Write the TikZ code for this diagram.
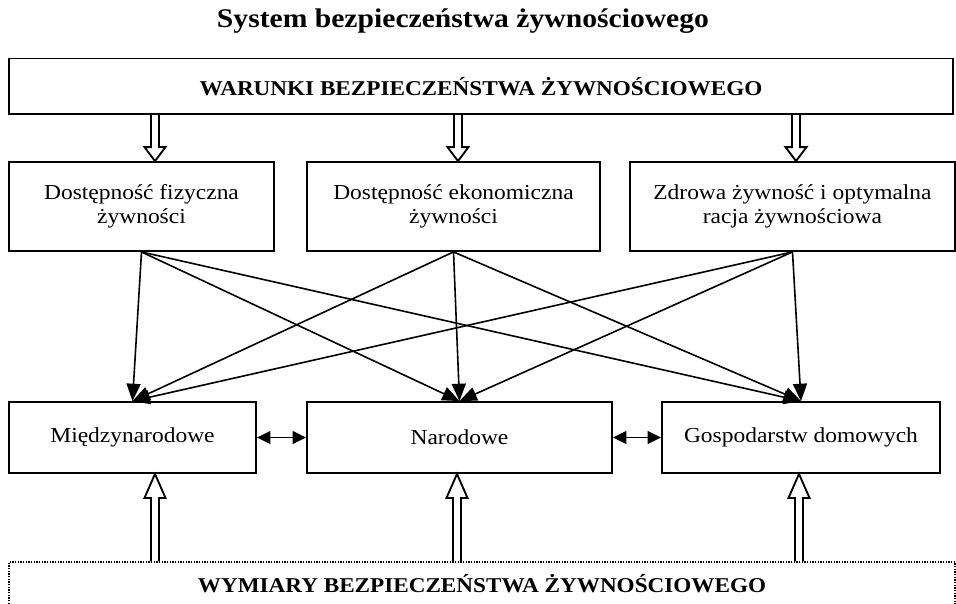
\documentclass[tikz,border=0pt]{standalone}
\usepackage{fontspec}
\setmainfont{Liberation Serif}[FakeStretch=1.1]
\usetikzlibrary{arrows.meta,calc}

\tikzset{every picture/.style={line width=0.75pt}}
\tikzset{
  box/.style={draw, line width=1.4pt, inner sep=0pt, align=center,
    font=\fontsize{16}{17.6}\selectfont},
  headbox/.style={box, font=\bfseries\fontsize{15.8}{18}\selectfont},
  link/.style={line width=1.2pt, -{Triangle[length=13pt,width=10.5pt]}},
  twoway/.style={line width=1.3pt, {Triangle[length=10pt,width=9.5pt]}-{Triangle[length=10pt,width=9.5pt]}},
}
% hollow arrow: from, to (tip), head length
\newcommand{\fatarrow}[3]{%
  \draw[line width=1.4pt] ($(#1)+(-4,0)$) -- ($(#2)+(-4,#3)$) -- ($(#2)+(-10.5,#3)$) -- (#2)
    -- ($(#2)+(10.5,#3)$) -- ($(#2)+(4,#3)$) -- ($(#1)+(4,0)$);}

\begin{document}
\begin{tikzpicture}[x=0.75pt,y=0.75pt,yscale=-1,xscale=1]
\useasboundingbox (0,0) rectangle (956,603);

% Text Node
\node (title) at (463,27) [anchor=base, font=\bfseries\fontsize{20.2}{24}\selectfont] {System bezpieczeństwa żywnościowego};

%Shape: Rectangle
\node (war) at (481,86.25) [headbox, minimum width=708pt, minimum height=41.6pt] {WARUNKI BEZPIECZEŃSTWA ŻYWNOŚCIOWEGO};

%Shape: Rectangle
\node (fiz) at (141.5,206.5) [box, minimum width=198.75pt, minimum height=66.75pt] {Dostępność fizyczna\\żywności};
%Shape: Rectangle
\node (eko) at (453.5,206.5) [box, minimum width=219.75pt, minimum height=66.75pt] {Dostępność ekonomiczna\\żywności};
%Shape: Rectangle
\node (zdr) at (792.5,206.5) [box, minimum width=243.75pt, minimum height=66.75pt] {Zdrowa żywność i optymalna\\racja żywnościowa};

%Shape: Rectangle
\node (mie) at (132.5,437.5) [box, minimum width=185.25pt, minimum height=53.25pt] {Międzynarodowe};
%Shape: Rectangle
\node (nar) at (459.5,437.5) [box, minimum width=228.75pt, minimum height=53.25pt] {Narodowe};
%Shape: Rectangle
\node (gos) at (801,437.5) [box, minimum width=208.5pt, minimum height=53.25pt] {Gospodarstw domowych};

%Shape: Rectangle (dotted)
\node (wym) at (482,585) [headbox, line width=1pt, densely dotted, minimum width=709.5pt, minimum height=34.5pt,
  text height=10.5pt, text depth=0pt] {WYMIARY BEZPIECZEŃSTWA ŻYWNOŚCIOWEGO};

% arrow columns
\coordinate (c1) at (155,0);
\coordinate (c2) at (458,0);
\coordinate (c3) at (796,0);
\coordinate (d1) at (155,0);
\coordinate (d2) at (457,0);
\coordinate (d3) at (799,0);

%Block Arrows
\fatarrow{war.south -| c1}{fiz.north -| c1}{-14}
\fatarrow{war.south -| c2}{eko.north -| c2}{-14}
\fatarrow{war.south -| c3}{zdr.north -| c3}{-14}
\fatarrow{wym.north -| d1}{mie.south -| d1}{24}
\fatarrow{wym.north -| d2}{nar.south -| d2}{24}
\fatarrow{wym.north -| d3}{gos.south -| d3}{24}

%Straight Lines
\foreach \s in {fiz,eko,zdr}
  \foreach \t in {mie,nar,gos}
    \draw[link] (\s.south) -- (\t.north);

%Straight Lines
\draw[twoway] (mie) -- (nar);
\draw[twoway] (nar) -- (gos);

\end{tikzpicture}
\end{document}
